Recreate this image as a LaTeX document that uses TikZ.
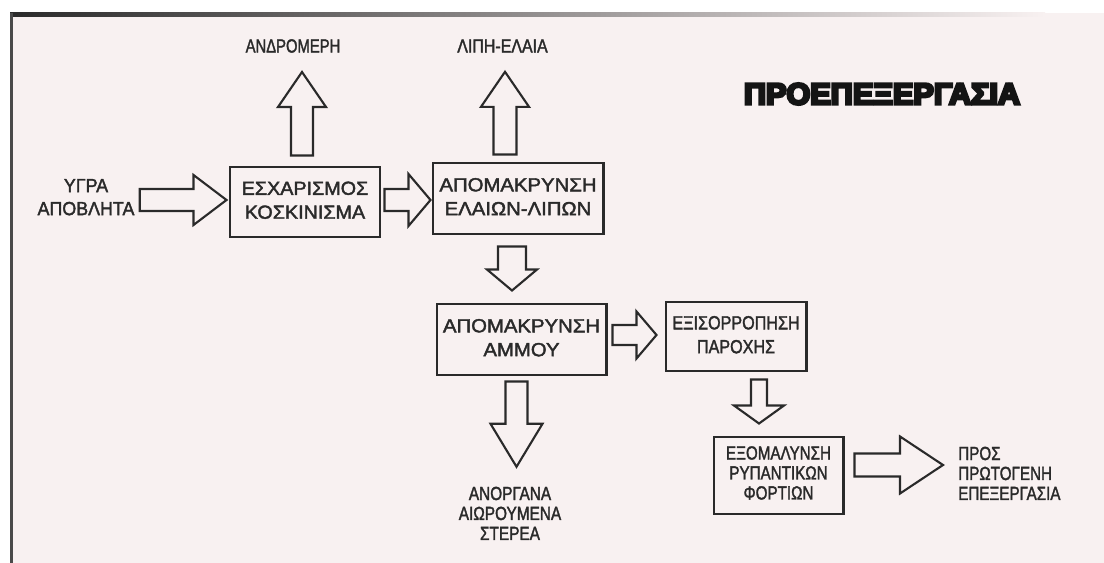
\documentclass[tikz,border=0pt]{standalone}
\usepackage{fontspec}
\setmainfont{Liberation Sans}[FakeBold=2]
\newfontfamily\titlefont{Liberation Sans Bold}[FakeBold=9]
\usepackage{graphicx}
\usetikzlibrary{calc}

\definecolor{paper}{HTML}{F8F1F1}
\definecolor{ink}{HTML}{2A2A2A}

% one pixel of the drawing grid
\newlength\pxu
\setlength\pxu{0.71131pt}

% horizontally squeezed stack of lines
\newcommand\stk[3]{\scalebox{#1}[1]{\begin{tabular}{@{}#2@{}}#3\end{tabular}}}

\tikzset{
  box/.style={draw=ink, line width=2.1pt, inner sep=0pt, text=ink,
    font=\fontsize{13.5}{17}\selectfont},
  lbl/.style={inner sep=0pt, text=ink, font=\fontsize{13.5}{14.2}\selectfont},
  % hollow block arrow: shaft half width, wing half width, head length (px)
  fat/.style n args={3}{draw=ink, line width=1.5pt, line join=miter,
    /utils/exec={\pgfmathsetlengthmacro\ars{#1*\pxu}%
                 \pgfmathsetlengthmacro\arw{#2*\pxu}%
                 \pgfmathsetlengthmacro\arh{#3*\pxu}},
    to path={let \p1=(\tikztostart), \p2=(\tikztotarget),
                 \p3=($(\p2)!\arh!(\p1)$) in
      ($(\p1)!\ars!90:(\p2)$) -- ($(\p3)!\ars!90:(\p2)$)
      -- ($(\p3)!\arw!90:(\p2)$) -- (\p2)
      -- ($(\p3)!\arw!-90:(\p2)$) -- ($(\p3)!\ars!-90:(\p2)$)
      -- ($(\p1)!\ars!-90:(\p2)$) -- cycle}}
}

\begin{document}
\begin{tikzpicture}[x=0.025cm, y=-0.025cm]
\useasboundingbox (0,0) rectangle (1104,563);
% sheet
\fill[white] (0,0) rectangle (1104,563);
\fill[paper] (10,13) rectangle (1104,563);
\shade[left color=ink, middle color=ink!75, right color=paper] (10,13) rectangle (1045,16.5);
\fill[ink!85] (10,13) rectangle (13,563);

% heading
\node[text=black!92] (title) at (882,94)
  {\resizebox{276\pxu}{21\pxu}{\titlefont ΠΡΟΕΠΕΞΕΡΓΑΣΙΑ}};

% process boxes
\node[box, minimum width=150*\pxu, minimum height=70*\pxu] (b1) at (305,202)
  {\stk{1.04}{c}{ΕΣΧΑΡΙΣΜΟΣ\\ΚΟΣΚΙΝΙΣΜΑ}};
\node[box, minimum width=170*\pxu, minimum height=71*\pxu] (b2) at (518,198.5)
  {\stk{1.07}{c}{ΑΠΟΜΑΚΡΥΝΣΗ\\ΕΛΑΙΩΝ-ΛΙΠΩΝ}};
\node[box, minimum width=169*\pxu, minimum height=71*\pxu] (b3) at (521.5,339.5)
  {\stk{1.07}{c}{ΑΠΟΜΑΚΡΥΝΣΗ\\ΑΜΜΟΥ}};
\node[box, minimum width=140*\pxu, minimum height=69*\pxu] (b4) at (736,336.5)
  {\stk{0.85}{c}{ΕΞΙΣΟΡΡΟΠΗΣΗ\\ΠΑΡΟΧΗΣ}};
\node[box, minimum width=129*\pxu, minimum height=77*\pxu,
      font=\fontsize{13.5}{14.2}\selectfont] (b5) at (778.5,475.5)
  {\stk{0.8}{c}{ΕΞΟΜΑΛΥΝΣΗ\\ΡΥΠΑΝΤΙΚΩΝ\\ΦΟΡΤΙΩΝ}};

% inflow and outflow labels
\node[lbl, font=\fontsize{13.5}{16.4}\selectfont] (l0) at (86,199)
  {\stk{0.94}{c}{ΥΓΡΑ\\ΑΠΟΒΛΗΤΑ}};
\node[lbl] (l1) at (293,46) {\scalebox{0.78}[1]{ΑΝΔΡΟΜΕΡΗ}};
\node[lbl] (l2) at (502.5,46) {\scalebox{0.84}[1]{ΛΙΠΗ-ΕΛΑΙΑ}};
\node[lbl] (l3) at (510,516)
  {\stk{0.81}{c}{ΑΝΟΡΓΑΝΑ\\ΑΙΩΡΟΥΜΕΝΑ\\ΣΤΕΡΕΑ}};
\node[lbl, anchor=west] (l4) at (958,476)
  {\stk{0.80}{l}{ΠΡΟΣ\\ΠΡΩΤΟΓΕΝΗ\\ΕΠΕΞΕΡΓΑΣΙΑ}};

% flow arrows
\draw[fat={11}{25}{33}] ($(l0.east)+(5,1)$) to ($(b1.west)+(-2,-2)$);
\draw[fat={11}{26}{22}] ($(b1.east)+(3,-2)$) to ($(b2.west)+(-1,1.5)$);
\draw[fat={11}{24}{35}] ($(b1.north)+(-3,-10)$) to ($(l1.south)+(9,19)$);
\draw[fat={11.5}{24}{35}] ($(b2.north)+(-13,-7)$) to ($(l2.south)+(2.5,19)$);
\draw[fat={14}{25}{21}] ($(b2.south)+(-6,11)$) to ($(b3.north)+(-9.5,-12)$);
\draw[fat={10}{23.5}{20}] ($(b3.east)+(5,-4.5)$) to ($(b4.west)+(-8,-1.5)$);
\draw[fat={8}{25}{18}] ($(b4.south)+(23,7)$) to ($(b5.north)+(-19.5,-12)$);
\draw[fat={11}{26}{43}] ($(b3.south)+(-5,5)$) to ($(l3.north)+(6.5,-19)$);
\draw[fat={11.5}{28.5}{43}] ($(b5.east)+(10,-10.5)$) to ($(l4.west)+(-15,-11)$);
\end{tikzpicture}
\end{document}
